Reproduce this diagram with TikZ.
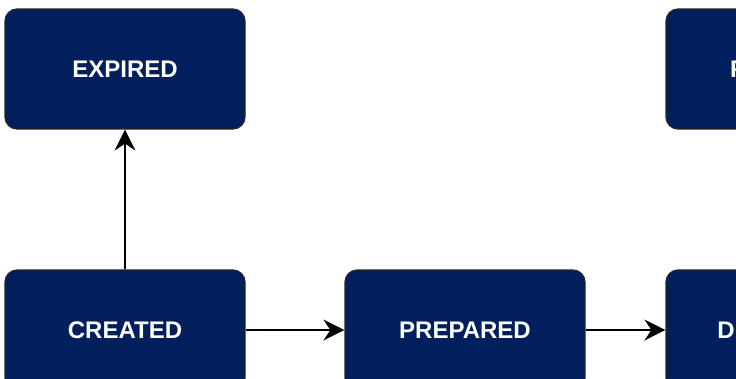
\documentclass[tikz,border=0pt]{standalone}
\usepackage{fontspec}
\setmainfont{Liberation Sans}
\usetikzlibrary{arrows.meta}
\definecolor{navy}{HTML}{001F5C}
\begin{document}
\begin{tikzpicture}[x=1pt,y=-1pt,
  state/.style={draw=black!85,line width=1.2pt,fill=navy,rounded corners=12pt,
    minimum width=240pt,minimum height=120pt,text=white,
    font=\fontsize{24}{28}\selectfont\bfseries,inner sep=0pt},
  conn/.style={line width=2pt,-{Stealth[length=21pt,width=21pt,inset=7pt]}}]
\useasboundingbox (0,0) rectangle (736,378);
\clip (0,0) rectangle (736,378);
\fill[white] (0,0) rectangle (736,378);
\node[state] (expired) at (125,69) {EXPIRED};
\node[state] (created) at (125,330) {CREATED};
\node[state] (prepared) at (465,330) {PREPARED};
\node[state] (failed) at (786,69) {FINISHED};
\node[state] (delivered) at (786,330) {DELIVERED};
\draw[conn] (created.north) -- (expired.south);
\draw[conn] (created.east) -- (prepared.west);
\draw[conn] (prepared.east) -- (delivered.west);
\end{tikzpicture}
\end{document}
